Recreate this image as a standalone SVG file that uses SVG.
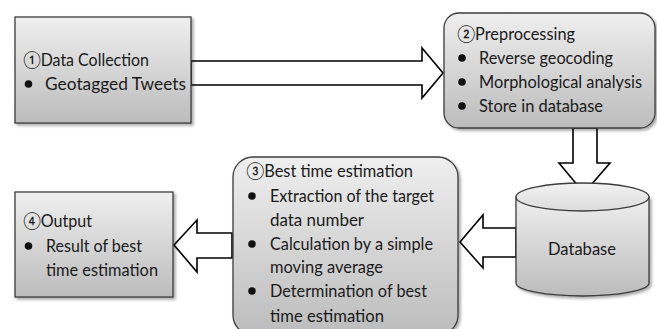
<svg xmlns="http://www.w3.org/2000/svg" width="657" height="329" viewBox="0 0 657 329">
<defs>
<linearGradient id="g" x1="0" y1="0" x2="0" y2="1">
<stop offset="0" stop-color="#efefef"/>
<stop offset="1" stop-color="#bcbcbc"/>
</linearGradient>
<linearGradient id="gt" x1="0" y1="0" x2="0" y2="1">
<stop offset="0" stop-color="#f2f2f2"/>
<stop offset="1" stop-color="#dcdcdc"/>
</linearGradient>
<filter id="sh" x="-10%" y="-10%" width="130%" height="130%">
<feGaussianBlur in="SourceAlpha" stdDeviation="1.5"/>
<feOffset dx="2" dy="2" result="b"/>
<feComponentTransfer><feFuncA type="linear" slope="0.35"/></feComponentTransfer>
<feMerge><feMergeNode/><feMergeNode in="SourceGraphic"/></feMerge>
</filter>
</defs>
<style>
.box{fill:url(#g);stroke:#3c3c3c;stroke-width:1.3;filter:url(#sh)}
.arr{fill:#fff;stroke:#000;stroke-width:1.6;stroke-linejoin:miter}
text{font-family:Lato,"Liberation Sans","DejaVu Sans",sans-serif;font-size:17.5px;fill:#1a1a1a}
.b{fill:#111}
</style>
<g id="connectors">
<polygon class="arr" points="191,61 422,61 422,48 443,73 422,98 422,85 191,85"/>
<polygon class="arr" points="573,128 597,128 597,163 610,163 584,193 559,163 573,163"/>
<polygon class="arr" points="516,228 483,228 483,215 460,242 483,268 483,257 516,257"/>
<polygon class="arr" points="232,233 197,233 197,220 174,245 197,272 197,258 232,258"/>
</g>
<g id="n1">
<rect class="box" x="15" y="17" width="176" height="106"/>
<text x="23" y="66" textLength="126" lengthAdjust="spacingAndGlyphs">①Data Collection</text>
<circle class="b" cx="28.5" cy="84" r="3.8"/>
<text x="45" y="90" textLength="141" lengthAdjust="spacingAndGlyphs">Geotagged Tweets</text>
</g>
<g id="n2">
<rect class="box" x="444" y="13" width="211" height="115" rx="15" ry="15"/>
<text x="457" y="40" textLength="118" lengthAdjust="spacingAndGlyphs">②Preprocessing</text>
<circle class="b" cx="462" cy="58" r="3.8"/>
<text x="479" y="64" textLength="134" lengthAdjust="spacingAndGlyphs">Reverse geocoding</text>
<circle class="b" cx="462" cy="82" r="3.8"/>
<text x="479" y="88" textLength="163" lengthAdjust="spacingAndGlyphs">Morphological analysis</text>
<circle class="b" cx="462" cy="106" r="3.8"/>
<text x="479" y="112" textLength="124" lengthAdjust="spacingAndGlyphs">Store in database</text>
</g>
<g id="db">
<path class="box" d="M516,197 L516,283 A66.5,13 0 0 0 649,283 L649,197 Z"/>
<ellipse cx="582.5" cy="197" rx="66.5" ry="14" fill="url(#gt)" stroke="#3c3c3c" stroke-width="1.3"/>
<text x="548" y="255" textLength="68" lengthAdjust="spacingAndGlyphs">Database</text>
</g>
<g id="n3">
<rect class="box" x="233" y="157" width="225" height="178" rx="20" ry="20"/>
<text x="246" y="177" textLength="167" lengthAdjust="spacingAndGlyphs">③Best time estimation</text>
<circle class="b" cx="252" cy="196" r="3.8"/>
<text x="270" y="202" textLength="164" lengthAdjust="spacingAndGlyphs">Extraction of the target</text>
<text x="270" y="226" textLength="94" lengthAdjust="spacingAndGlyphs">data number</text>
<circle class="b" cx="252" cy="244" r="3.8"/>
<text x="270" y="250" textLength="163" lengthAdjust="spacingAndGlyphs">Calculation by a simple</text>
<text x="270" y="273" textLength="113" lengthAdjust="spacingAndGlyphs">moving average</text>
<circle class="b" cx="252" cy="291" r="3.8"/>
<text x="270" y="297" textLength="157" lengthAdjust="spacingAndGlyphs">Determination of best</text>
<text x="270" y="322" textLength="114" lengthAdjust="spacingAndGlyphs">time estimation</text>
</g>
<g id="n4">
<rect class="box" x="15" y="192" width="158" height="105"/>
<text x="23" y="227" textLength="69" lengthAdjust="spacingAndGlyphs">④Output</text>
<circle class="b" cx="28.5" cy="246" r="3.8"/>
<text x="46" y="252" textLength="96" lengthAdjust="spacingAndGlyphs">Result of best</text>
<text x="46" y="276" textLength="112" lengthAdjust="spacingAndGlyphs">time estimation</text>
</g>
</svg>
